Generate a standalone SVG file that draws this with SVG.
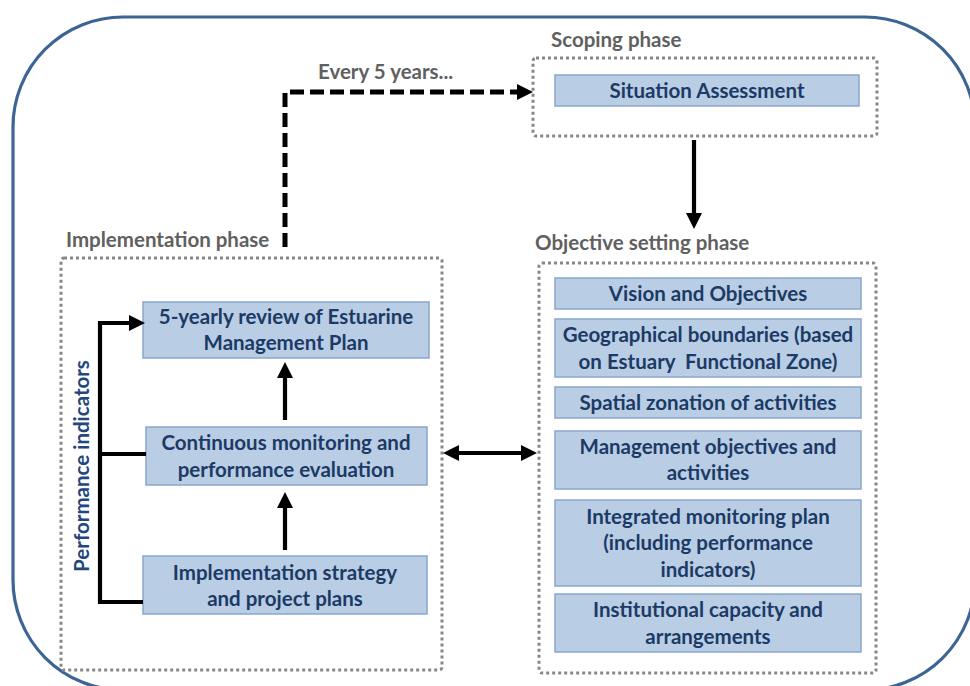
<svg xmlns="http://www.w3.org/2000/svg" width="970" height="686" viewBox="0 0 970 686">
<defs>
<style>
.frame{fill:none;stroke:#3c6596;stroke-width:3.2}
.phase{fill:none;stroke:#878787;stroke-width:3;stroke-dasharray:3 3}
.box{fill:#b9cde4;stroke:#8aa7cc;stroke-width:1.5}
.t{font-family:Lato,"Liberation Sans",sans-serif;font-weight:bold;font-size:20.5px;fill:#1c3a66;text-anchor:middle}
.lbl{font-family:Lato,"Liberation Sans",sans-serif;font-weight:bold;font-size:20.5px;fill:#606060}
.pi{font-family:Lato,"Liberation Sans",sans-serif;font-weight:bold;font-size:20.5px;fill:#23467e;text-anchor:middle}
.c{fill:none;stroke:#000;stroke-width:4.2}
.dash{stroke-width:5;stroke-dasharray:14 6}
</style>
<marker id="ah" markerUnits="userSpaceOnUse" markerWidth="16" markerHeight="16" refX="6" refY="8" orient="auto-start-reverse">
<path d="M0,0 L16,8 L0,16 z" fill="#000"/>
</marker>
</defs>
<rect class="frame" x="13" y="17" width="962" height="673" rx="110" ry="110"/>

<g id="scoping-phase">
<rect class="phase" x="533" y="58" width="344" height="78" rx="3"/>
<text class="lbl" x="551" y="47">Scoping phase</text>
</g>
<g id="objective-phase">
<rect class="phase" x="539" y="263" width="337" height="410" rx="3"/>
<text class="lbl" x="535" y="250">Objective setting phase</text>
</g>
<g id="implementation-phase">
<rect class="phase" x="61" y="258" width="381" height="412" rx="3"/>
<text class="lbl" x="66" y="247">Implementation phase</text>
</g>

<g id="situation-assessment">
<rect class="box" x="555" y="75" width="304" height="31"/>
<text class="t" x="707" y="98">Situation Assessment</text>
</g>
<g id="vision">
<rect class="box" x="555" y="278" width="306" height="31"/>
<text class="t" x="708" y="301">Vision and Objectives</text>
</g>
<g id="geographical">
<rect class="box" x="555" y="319" width="306" height="58"/>
<text class="t" x="708" y="342">Geographical boundaries (based</text>
<text class="t" x="708" y="369" xml:space="preserve">on Estuary  Functional Zone)</text>
</g>
<g id="spatial">
<rect class="box" x="555" y="387" width="306" height="31"/>
<text class="t" x="708" y="410">Spatial zonation of activities</text>
</g>
<g id="management">
<rect class="box" x="555" y="431" width="306" height="58"/>
<text class="t" x="708" y="454">Management objectives and</text>
<text class="t" x="708" y="480">activities</text>
</g>
<g id="integrated">
<rect class="box" x="555" y="500" width="306" height="86"/>
<text class="t" x="708" y="524">Integrated monitoring plan</text>
<text class="t" x="708" y="550">(including performance</text>
<text class="t" x="708" y="577">indicators)</text>
</g>
<g id="institutional">
<rect class="box" x="555" y="594" width="306" height="58"/>
<text class="t" x="708" y="617">Institutional capacity and</text>
<text class="t" x="708" y="644">arrangements</text>
</g>
<g id="review">
<rect class="box" x="143" y="302" width="286" height="56"/>
<text class="t" x="286" y="324">5-yearly review of Estuarine</text>
<text class="t" x="286" y="350">Management Plan</text>
</g>
<g id="monitoring">
<rect class="box" x="146" y="427" width="281" height="58"/>
<text class="t" x="286" y="450">Continuous monitoring and</text>
<text class="t" x="286" y="477">performance evaluation</text>
</g>
<g id="strategy">
<rect class="box" x="143" y="556" width="284" height="58"/>
<text class="t" x="285" y="580">Implementation strategy</text>
<text class="t" x="285" y="606">and project plans</text>
</g>

<g id="connectors">
<path class="c dash" d="M285,247 V92 H523" marker-end="url(#ah)"/>
<text class="lbl" x="318" y="79">Every 5 years...</text>
<path class="c" d="M694,140 V219" marker-end="url(#ah)"/>
<path class="c" d="M453,453 H527" marker-start="url(#ah)" marker-end="url(#ah)"/>
<path class="c" d="M285,420 V372" marker-end="url(#ah)"/>
<path class="c" d="M285,550 V502" marker-end="url(#ah)"/>
<path class="c" d="M143,602 H100 V323 H135" marker-end="url(#ah)"/>
<path class="c" d="M100,454 H146"/>
<text class="pi" transform="translate(89,466) rotate(-90)">Performance indicators</text>
</g>
</svg>
